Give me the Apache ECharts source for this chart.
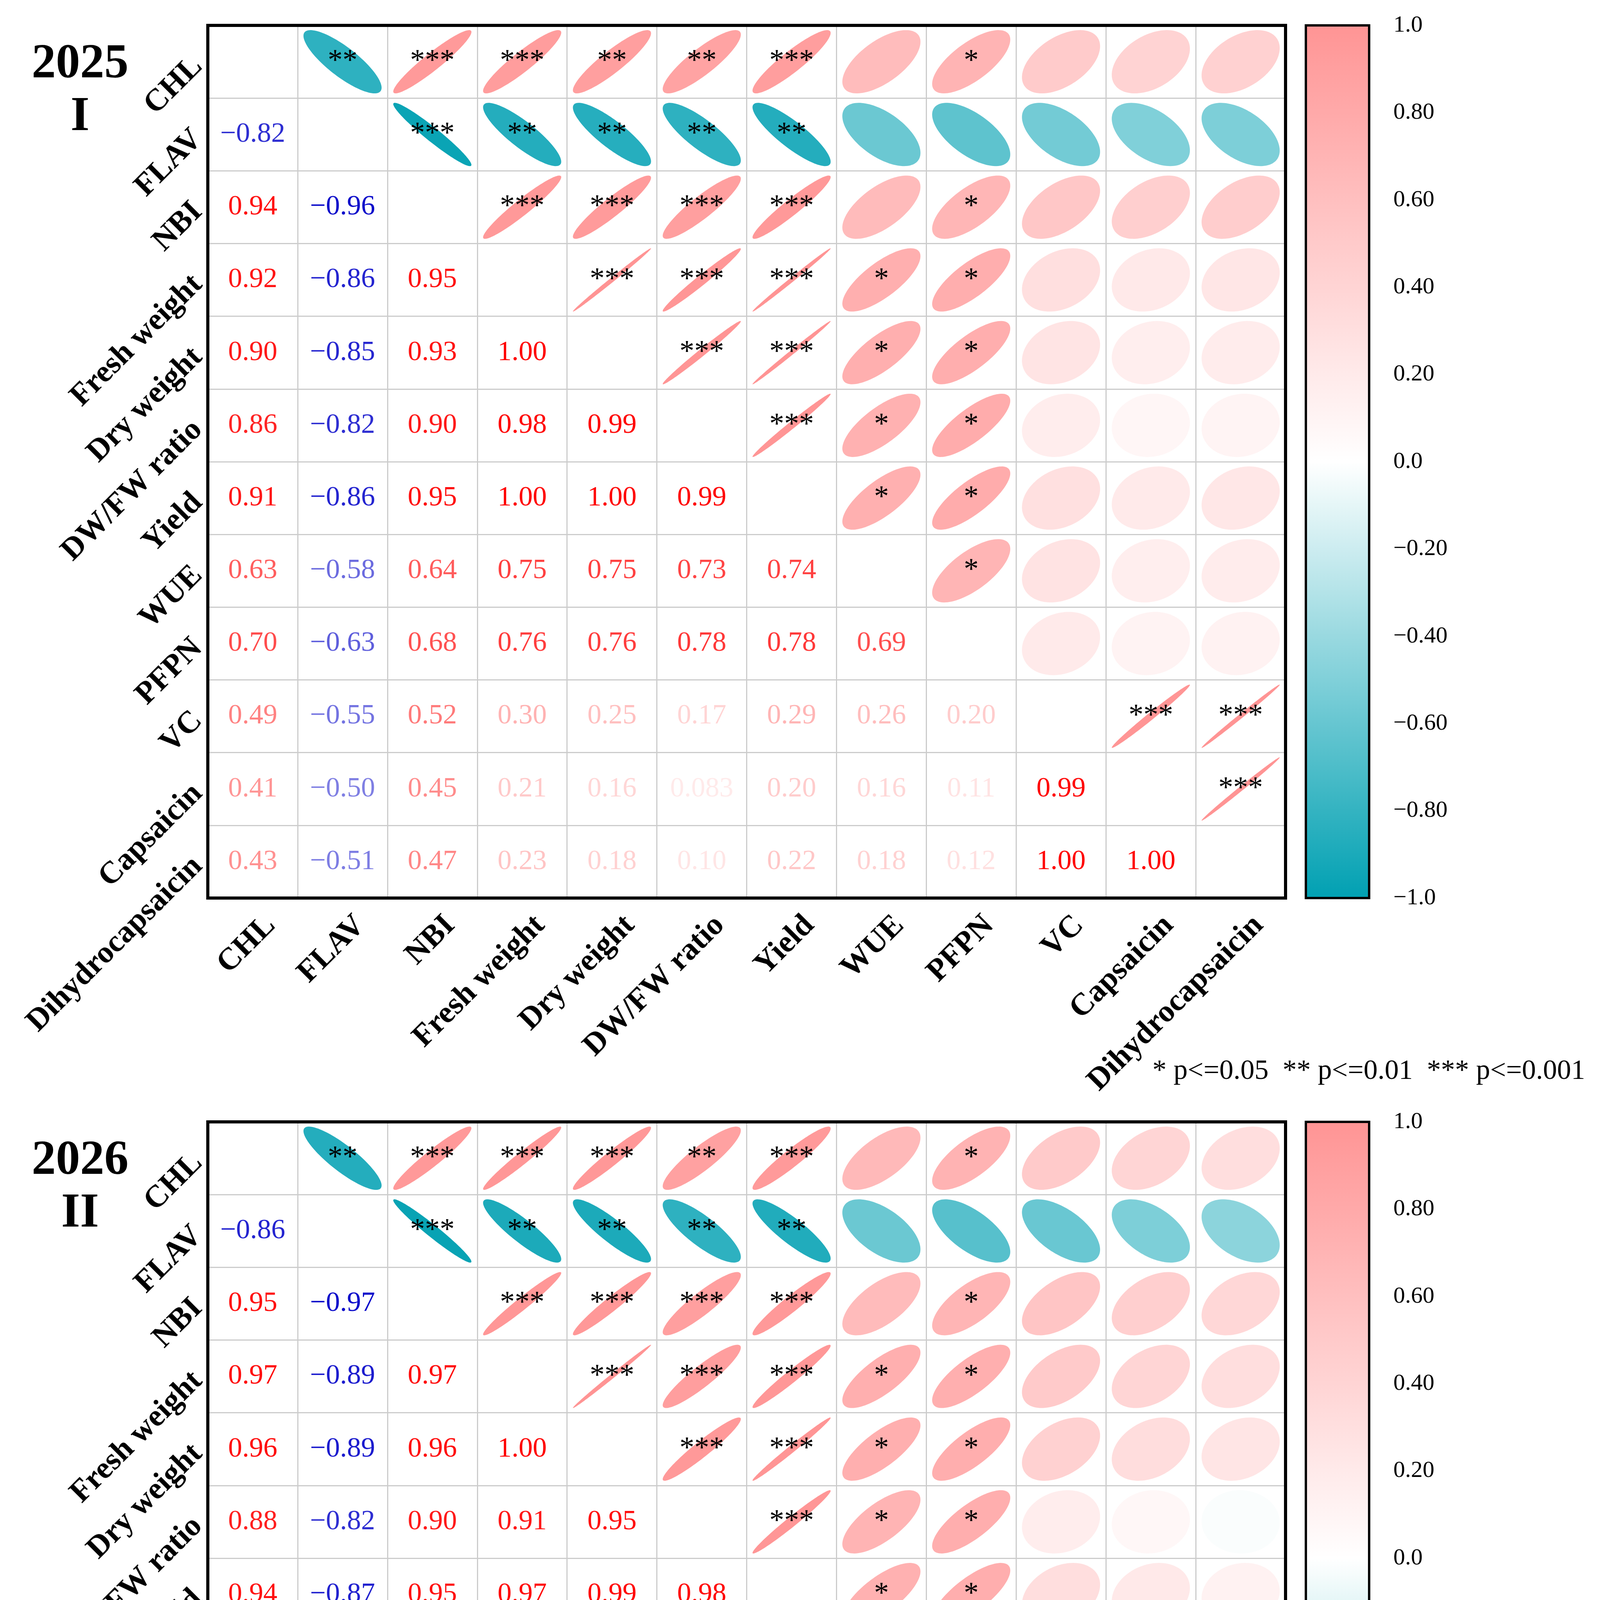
<!DOCTYPE html>
<html>
<head>
<meta charset="utf-8">
<script src="https://cdn.jsdelivr.net/npm/echarts@6/dist/echarts.min.js"></script>
<style>
html,body{margin:0;padding:0;background:#fff}
#main{width:4117px;height:5659px}
</style>
</head>
<body>
<div id="main"></div>
<script>
var vars = ['CHL','FLAV','NBI','Fresh weight','Dry weight','DW/FW ratio','Yield','WUE','PFPN','VC','Capsaicin','Dihydrocapsaicin'];

// lower triangle: row i holds r(i, 0..i-1)
var corr2025 = [
	[],
	[-0.82],
	[0.94, -0.96],
	[0.92, -0.86, 0.95],
	[0.90, -0.85, 0.93, 1.00],
	[0.86, -0.82, 0.90, 0.98, 0.99],
	[0.91, -0.86, 0.95, 1.00, 1.00, 0.99],
	[0.63, -0.58, 0.64, 0.75, 0.75, 0.73, 0.74],
	[0.70, -0.63, 0.68, 0.76, 0.76, 0.78, 0.78, 0.69],
	[0.49, -0.55, 0.52, 0.30, 0.25, 0.17, 0.29, 0.26, 0.20],
	[0.41, -0.50, 0.45, 0.21, 0.16, 0.083, 0.20, 0.16, 0.11, 0.99],
	[0.43, -0.51, 0.47, 0.23, 0.18, 0.10, 0.22, 0.18, 0.12, 1.00, 1.00]
];
var corr2026 = [
	[],
	[-0.86],
	[0.95, -0.97],
	[0.97, -0.89, 0.97],
	[0.96, -0.89, 0.96, 1.00],
	[0.88, -0.82, 0.90, 0.91, 0.95],
	[0.94, -0.87, 0.95, 0.97, 0.99, 0.98],
	[0.65, -0.58, 0.64, 0.75, 0.75, 0.70, 0.73],
	[0.71, -0.66, 0.69, 0.75, 0.76, 0.76, 0.76, 0.67],
	[0.50, -0.59, 0.54, 0.50, 0.43, 0.17, 0.31, 0.29, 0.21],
	[0.39, -0.51, 0.45, 0.39, 0.32, 0.073, 0.21, 0.17, 0.16, 0.98],
	[0.31, -0.45, 0.37, 0.31, 0.24, -0.020, 0.12, 0.13, 0.051, 0.98, 0.99]
];

// upper triangle significance: row i holds cols i+1..11
var stars2025 = [
	['**','***','***','**','**','***','','*','','',''],
	['***','**','**','**','**','','','','',''],
	['***','***','***','***','','*','','',''],
	['***','***','***','*','*','','',''],
	['***','***','*','*','','',''],
	['***','*','*','','',''],
	['*','*','','',''],
	['*','','',''],
	['','',''],
	['***','***'],
	['***'],
	[]
];
var stars2026 = [
	['**','***','***','***','**','***','','*','','',''],
	['***','**','**','**','**','','','','',''],
	['***','***','***','***','','*','','',''],
	['***','***','***','*','*','','',''],
	['***','***','*','*','','',''],
	['***','*','*','','',''],
	['*','*','','',''],
	['*','','',''],
	['','',''],
	['***','***'],
	['***'],
	[]
];

var panelTitles = ['2025\nI', '2026\nII'];
var sigNote = '* p<=0.05  ** p<=0.01  *** p<=0.001';
var cbRange = [-1, 1];

var FONT = '"Liberation Serif", "Times New Roman", serif';
var POS = [255, 148, 148], NEG = [0, 160, 178];

function corrColor(r){
	var c = r >= 0 ? POS : NEG, a = Math.min(1, Math.abs(r));
	return 'rgb(' + Math.round(255 + (c[0]-255)*a) + ',' + Math.round(255 + (c[1]-255)*a) + ',' + Math.round(255 + (c[2]-255)*a) + ')';
}
function textColor(r){
	var a = Math.min(1, Math.abs(r));
	return r >= 0 ? 'rgba(255,0,0,' + a + ')' : 'rgba(0,0,200,' + a + ')';
}
function fmt(v){
	var a = Math.abs(v);
	var s = a < 0.1 ? a.toFixed(3) : a.toFixed(2);
	return (v < 0 ? '\u2212' : '') + s;
}
function cbLabel(v){
	v = Math.round(v*100)/100;
	var a = Math.abs(v);
	var s = (a === 0 || a === 1) ? a.toFixed(1) : a.toFixed(2);
	return (v < 0 ? '\u2212' : '') + s;
}
function rAt(corr, i, j){ return i > j ? corr[i][j] : corr[j][i]; }

var option = {
	animation: false,
	backgroundColor: '#fff',
	grid: [], xAxis: [], yAxis: [], series: [], graphic: []
};

function addPanel(p, corr, stars){
	var top = [65, 2872][p];
	var g = 2*p;
	var lower = [], upper = [], upperStars = [];
	for (var i = 0; i < vars.length; i++){
		for (var j = 0; j < vars.length; j++){
			if (j < i) lower.push([j, i, corr[i][j]]);
			else if (j > i){
				upper.push([j, i, rAt(corr, i, j)]);
				upperStars.push(stars[i][j-i-1]);
			}
		}
	}
	option.grid.push({left:532, top:top, width:2759, height:2234, show:true, borderColor:'#000', borderWidth:8, z:3});
	option.grid.push({left:3343, top:top, width:162, height:2234, show:false});

	var lab = {interval:0, rotate:45, fontFamily:FONT, fontWeight:'bold', fontSize:80, color:'#000'};
	option.xAxis.push({gridIndex:g, type:'category', data:vars, position:'bottom',
		axisLine:{show:false}, axisTick:{show:false},
		splitLine:{show:true, interval:0, lineStyle:{color:'#cccccc', width:3}},
		axisLabel:Object.assign({margin:104, padding:[0,-65,0,0]}, lab)});
	option.yAxis.push({gridIndex:g, type:'category', data:vars, inverse:true,
		axisLine:{show:false}, axisTick:{show:false},
		splitLine:{show:true, interval:0, lineStyle:{color:'#cccccc', width:3}},
		axisLabel:Object.assign({margin:26, padding:[0,0,20,0]}, lab)});

	option.xAxis.push({gridIndex:g+1, type:'value', min:0, max:1, show:false});
	option.yAxis.push({gridIndex:g+1, type:'value', min:cbRange[0], max:cbRange[1], interval:0.2, position:'right',
		axisLine:{show:false}, splitLine:{show:false},
		axisTick:{show:true, length:42, lineStyle:{color:'#000', width:3}},
		axisLabel:{margin:62, fontFamily:FONT, fontSize:60, color:'#000', formatter:cbLabel}});

	// ellipses + stars
	option.series.push({type:'custom', xAxisIndex:g, yAxisIndex:g, data:upper, z:2,
		renderItem:function(params, api){
			var c = api.coord([api.value(0), api.value(1)]);
			var cw = params.coordSys.width / vars.length, ch = params.coordSys.height / vars.length;
			var r = api.value(2);
			var rr = Math.max(-0.996, Math.min(0.996, r));
			var d = Math.acos(rr);
			var ax = cw*0.435, ay = ch*0.435;
			var pts = [];
			for (var k = 0; k < 120; k++){
				var t = k/120*2*Math.PI;
				pts.push([c[0] + ax*Math.cos(t + d/2), c[1] - ay*Math.cos(t - d/2)]);
			}
			var kids = [{type:'polygon', shape:{points:pts}, style:{fill:corrColor(r)}}];
			var s = upperStars[params.dataIndex];
			if (s) kids.push({type:'text', x:c[0], y:c[1], style:{text:s, fill:'#000', fontSize:76, fontFamily:FONT, align:'center', verticalAlign:'middle'}});
			return {type:'group', children:kids};
		}
	});
	// numbers
	option.series.push({type:'custom', xAxisIndex:g, yAxisIndex:g, data:lower, z:2,
		renderItem:function(params, api){
			var c = api.coord([api.value(0), api.value(1)]);
			var r = api.value(2);
			return {type:'text', x:c[0], y:c[1], style:{text:fmt(r), fill:textColor(r), fontSize:72, fontFamily:FONT, align:'center', verticalAlign:'middle'}};
		}
	});
	// colour bar
	option.series.push({type:'custom', xAxisIndex:g+1, yAxisIndex:g+1, data:[[0, cbRange[1]], [1, cbRange[0]]], z:2,
		renderItem:function(params, api){
			if (params.dataIndex !== 0) return null;
			var p1 = api.coord([0, cbRange[1]]), p2 = api.coord([1, cbRange[0]]);
			var stops = [];
			for (var k = 0; k <= 20; k++){
				var v = cbRange[1] - k/20*(cbRange[1]-cbRange[0]);
				stops.push({offset:k/20, color:corrColor(v)});
			}
			return {type:'rect', shape:{x:p1[0], y:p1[1], width:p2[0]-p1[0], height:p2[1]-p1[1]},
				style:{fill:new echarts.graphic.LinearGradient(0,0,0,1,stops), stroke:'#000', lineWidth:6}};
		}
	});

	var dy = top - 65;
	option.graphic.push({type:'text', x:205, y:98+dy, style:{text:panelTitles[p], fill:'#000', fontFamily:FONT, fontWeight:'bold', fontSize:124, lineHeight:135, align:'center', verticalAlign:'top'}});
	option.graphic.push({type:'text', x:4058, y:2743+dy, style:{text:sigNote, fill:'#000', fontFamily:FONT, fontSize:72, align:'right', verticalAlign:'middle'}});
}

addPanel(0, corr2025, stars2025);
addPanel(1, corr2026, stars2026);

var myChart = echarts.init(document.getElementById('main'));
myChart.setOption(option);
</script>
</body>
</html>
